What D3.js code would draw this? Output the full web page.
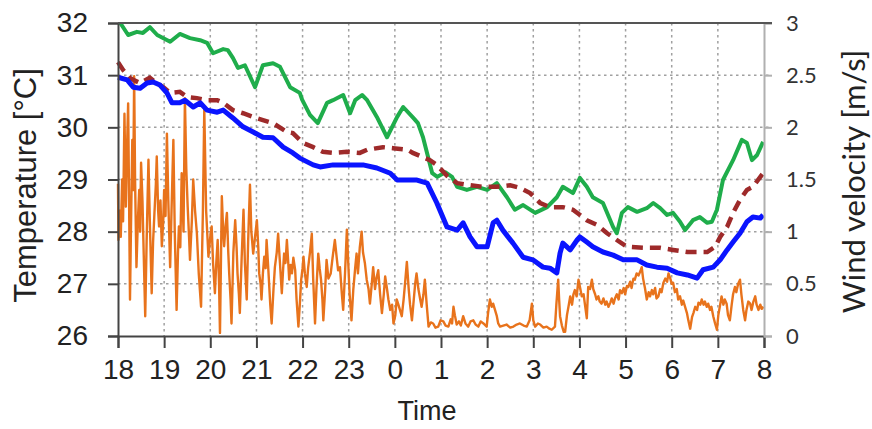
<!DOCTYPE html>
<html>
<head>
<meta charset="utf-8">
<script src="https://cdn.jsdelivr.net/npm/d3@7"></script>
<style>
  body { margin: 0; background: #fff; }
  svg { display: block; }
</style>
</head>
<body>
<div id="chart"></div>
<script>
// hours are counted from 18:00 (0 = 18, 14 = 8 next morning)
let hourTicks = [0, 1, 2, 3, 4, 5, 6, 7, 8, 9, 10, 11, 12, 13, 14];
let hourLabels = ["18", "19", "20", "21", "22", "23", "0", "1", "2", "3", "4", "5", "6", "7", "8"];
let tempTicks = [26, 27, 28, 29, 30, 31, 32];
let windTicks = [0, 0.5, 1, 1.5, 2, 2.5, 3];

// [hour, temperature]
let tempGreen = [[0.05,32.0],[0.22,31.77],[0.41,31.83],[0.54,31.81],[0.69,31.92],[0.85,31.77],[1.13,31.64],[1.34,31.79],[1.56,31.71],[1.78,31.67],[1.93,31.62],[2.06,31.42],[2.28,31.5],[2.38,31.48],[2.49,31.33],[2.6,31.14],[2.75,31.19],[2.97,30.77],[3.14,31.19],[3.36,31.23],[3.51,31.16],[3.73,30.77],[3.94,30.66],[3.99,30.53],[4.16,30.24],[4.33,30.08],[4.53,30.47],[4.66,30.52],[4.88,30.62],[5.03,30.27],[5.14,30.52],[5.29,30.62],[5.4,30.52],[5.61,30.2],[5.83,29.81],[6.05,30.2],[6.18,30.39],[6.4,30.18],[6.5,30.08],[6.61,29.81],[6.72,29.43],[6.81,29.12],[6.92,29.05],[7.09,29.14],[7.24,29.05],[7.35,28.86],[7.56,28.8],[7.78,28.86],[8.0,28.8],[8.21,28.93],[8.43,28.66],[8.6,28.42],[8.78,28.51],[9.04,28.36],[9.3,28.47],[9.51,28.66],[9.64,28.86],[9.86,28.74],[10.01,29.03],[10.16,28.86],[10.29,28.66],[10.51,28.55],[10.73,28.09],[10.81,27.97],[10.92,28.36],[11.05,28.47],[11.25,28.38],[11.46,28.45],[11.6,28.55],[11.75,28.45],[11.9,28.32],[12.03,28.36],[12.18,28.19],[12.29,28.03],[12.46,28.22],[12.61,28.28],[12.77,28.17],[12.87,28.19],[12.98,28.42],[13.11,28.99],[13.33,29.37],[13.52,29.76],[13.63,29.7],[13.74,29.37],[13.85,29.47],[13.98,29.72]];

let tempMaroon = [[0.0,31.25],[0.11,31.1],[0.26,30.95],[0.33,30.91],[0.48,30.85],[0.69,30.95],[0.8,30.87],[0.98,30.77],[1.13,30.66],[1.34,30.68],[1.5,30.58],[1.71,30.56],[1.93,30.52],[2.15,30.52],[2.28,30.47],[2.49,30.33],[2.71,30.27],[2.93,30.2],[3.14,30.14],[3.36,30.08],[3.66,29.91],[3.79,29.89],[4.01,29.7],[4.23,29.62],[4.44,29.53],[4.66,29.51],[4.96,29.53],[5.24,29.51],[5.4,29.57],[5.74,29.62],[5.96,29.6],[6.28,29.57],[6.39,29.51],[6.76,29.37],[6.91,29.28],[7.13,29.07],[7.35,28.93],[7.63,28.89],[7.91,28.86],[8.21,28.86],[8.5,28.89],[8.71,28.84],[8.93,28.74],[9.15,28.55],[9.36,28.47],[9.64,28.47],[9.86,28.42],[10.16,28.22],[10.38,28.13],[10.6,27.97],[10.81,27.84],[11.03,27.71],[11.46,27.69],[11.75,27.69],[12.03,27.65],[12.34,27.61],[12.77,27.61],[12.94,27.71],[13.05,27.9],[13.2,28.09],[13.33,28.36],[13.48,28.61],[13.63,28.8],[13.76,28.86],[13.98,29.12]];

let tempBlue = [[0.0,30.96],[0.2,30.91],[0.33,30.77],[0.48,30.75],[0.63,30.85],[0.76,30.87],[0.91,30.81],[1.06,30.66],[1.17,30.47],[1.34,30.47],[1.45,30.52],[1.63,30.39],[1.78,30.47],[1.93,30.33],[2.15,30.29],[2.28,30.33],[2.49,30.18],[2.71,30.01],[2.93,29.91],[3.14,29.81],[3.36,29.8],[3.58,29.62],[3.79,29.51],[3.94,29.41],[4.23,29.28],[4.38,29.24],[4.66,29.28],[5.03,29.28],[5.31,29.28],[5.61,29.22],[5.9,29.12],[6.05,28.99],[6.48,28.99],[6.7,28.93],[6.91,28.55],[7.13,28.09],[7.35,28.03],[7.48,28.17],[7.63,27.9],[7.78,27.71],[8.0,27.71],[8.13,28.17],[8.21,28.22],[8.34,28.03],[8.56,27.78],[8.78,27.51],[8.99,27.46],[9.21,27.32],[9.36,27.3],[9.51,27.21],[9.58,27.59],[9.64,27.78],[9.8,27.65],[9.95,27.84],[10.01,27.9],[10.16,27.8],[10.29,27.71],[10.51,27.61],[10.73,27.55],[10.95,27.46],[11.25,27.46],[11.46,27.36],[11.68,27.32],[11.9,27.3],[12.12,27.21],[12.34,27.17],[12.55,27.11],[12.68,27.27],[12.9,27.32],[13.05,27.46],[13.2,27.65],[13.33,27.8],[13.48,27.97],[13.63,28.19],[13.76,28.28],[13.92,28.26],[13.98,28.32]];

// [hour, wind velocity m/s]
let windOrange = [[0.00,1.46],[0.01,0.92],[0.04,1.20],[0.06,0.95],[0.09,1.50],[0.11,1.10],[0.14,2.13],[0.17,1.24],[0.19,1.70],[0.22,2.23],[0.24,1.30],[0.26,0.35],[0.28,1.00],[0.31,1.88],[0.33,1.40],[0.35,2.49],[0.37,1.50],[0.40,0.66],[0.43,1.10],[0.46,1.40],[0.48,1.00],[0.50,1.66],[0.53,1.30],[0.55,0.92],[0.59,0.19],[0.62,0.90],[0.66,1.69],[0.69,1.10],[0.73,0.41],[0.76,0.90],[0.79,1.18],[0.82,1.45],[0.84,1.72],[0.87,1.20],[0.89,1.05],[0.92,1.30],[0.95,0.86],[0.98,1.10],[1.00,1.40],[1.03,1.15],[1.06,1.94],[1.09,1.30],[1.13,0.66],[1.16,1.20],[1.20,1.88],[1.23,1.00],[1.27,0.25],[1.30,0.80],[1.32,1.05],[1.35,0.85],[1.38,1.56],[1.42,1.00],[1.45,2.28],[1.48,1.60],[1.51,1.24],[1.54,0.95],[1.56,0.73],[1.60,1.10],[1.63,1.50],[1.67,1.20],[1.71,0.98],[1.75,0.60],[1.80,0.28],[1.84,1.20],[1.87,2.17],[1.91,1.20],[1.96,0.76],[2.00,0.95],[2.03,1.05],[2.06,0.70],[2.10,0.41],[2.13,0.70],[2.16,0.92],[2.19,0.50],[2.21,0.03],[2.25,1.34],[2.28,1.00],[2.30,0.86],[2.33,1.05],[2.36,1.18],[2.39,0.80],[2.41,0.60],[2.44,0.35],[2.46,0.12],[2.50,0.80],[2.54,1.11],[2.57,0.85],[2.59,0.60],[2.62,0.40],[2.64,0.22],[2.68,0.75],[2.72,1.21],[2.75,0.70],[2.79,0.35],[2.82,0.90],[2.86,1.45],[2.89,1.00],[2.93,0.79],[2.97,0.95],[3.01,1.11],[3.04,0.85],[3.06,0.60],[3.09,0.50],[3.11,0.35],[3.14,0.60],[3.17,0.76],[3.20,0.65],[3.22,0.92],[3.25,0.70],[3.27,0.54],[3.30,0.30],[3.33,0.12],[3.37,0.45],[3.40,0.66],[3.44,0.80],[3.47,0.98],[3.51,0.70],[3.55,0.41],[3.58,0.65],[3.60,0.79],[3.63,0.70],[3.66,0.92],[3.69,0.70],[3.71,0.54],[3.74,0.68],[3.77,0.60],[3.80,0.75],[3.84,0.63],[3.87,0.35],[3.91,0.09],[3.94,0.30],[3.97,0.54],[4.00,0.65],[4.02,0.76],[4.05,0.60],[4.09,0.47],[4.12,0.65],[4.16,0.80],[4.20,0.98],[4.23,0.55],[4.27,0.12],[4.30,0.45],[4.34,0.79],[4.37,0.65],[4.40,0.54],[4.43,0.35],[4.45,0.15],[4.49,0.45],[4.52,0.73],[4.56,0.55],[4.61,0.60],[4.65,0.75],[4.70,0.92],[4.74,0.75],[4.77,0.63],[4.81,0.66],[4.85,0.41],[4.88,0.25],[4.92,0.60],[4.96,1.02],[4.99,0.70],[5.02,0.40],[5.06,0.15],[5.10,0.45],[5.14,0.65],[5.17,0.79],[5.20,0.60],[5.24,0.85],[5.28,1.00],[5.31,0.80],[5.35,0.70],[5.39,0.54],[5.43,0.45],[5.46,0.31],[5.50,0.50],[5.53,0.66],[5.57,0.45],[5.60,0.55],[5.64,0.63],[5.68,0.40],[5.72,0.22],[5.76,0.40],[5.79,0.57],[5.83,0.45],[5.86,0.35],[5.90,0.25],[5.94,0.30],[5.97,0.12],[6.01,0.20],[6.04,0.35],[6.07,0.31],[6.11,0.25],[6.15,0.19],[6.19,0.35],[6.22,0.50],[6.26,0.71],[6.30,0.45],[6.33,0.30],[6.37,0.15],[6.41,0.35],[6.44,0.50],[6.47,0.60],[6.51,0.45],[6.55,0.35],[6.58,0.28],[6.62,0.40],[6.65,0.54],[6.69,0.30],[6.73,0.09],[6.78,0.13],[6.83,0.12],[6.88,0.08],[6.94,0.09],[6.99,0.15],[7.05,0.14],[7.10,0.10],[7.16,0.09],[7.21,0.16],[7.24,0.12],[7.27,0.28],[7.30,0.20],[7.34,0.11],[7.39,0.14],[7.43,0.10],[7.48,0.19],[7.53,0.12],[7.59,0.09],[7.64,0.14],[7.70,0.15],[7.75,0.11],[7.81,0.09],[7.86,0.14],[7.92,0.12],[7.99,0.09],[8.02,0.22],[8.06,0.35],[8.10,0.28],[8.13,0.31],[8.17,0.25],[8.21,0.19],[8.24,0.12],[8.28,0.09],[8.35,0.10],[8.42,0.11],[8.50,0.08],[8.57,0.09],[8.64,0.11],[8.71,0.12],[8.79,0.10],[8.86,0.09],[8.92,0.15],[8.97,0.31],[9.00,0.15],[9.04,0.09],[9.10,0.12],[9.15,0.11],[9.22,0.08],[9.29,0.09],[9.35,0.07],[9.40,0.06],[9.47,0.09],[9.50,0.30],[9.54,0.54],[9.56,0.35],[9.58,0.19],[9.62,0.10],[9.66,0.04],[9.69,0.04],[9.73,0.20],[9.77,0.30],[9.80,0.38],[9.84,0.30],[9.87,0.40],[9.90,0.44],[9.94,0.38],[9.98,0.54],[10.02,0.45],[10.05,0.38],[10.09,0.40],[10.12,0.30],[10.16,0.17],[10.19,0.47],[10.23,0.45],[10.27,0.54],[10.30,0.45],[10.34,0.40],[10.37,0.35],[10.41,0.38],[10.44,0.33],[10.48,0.31],[10.52,0.36],[10.56,0.30],[10.59,0.33],[10.63,0.28],[10.67,0.32],[10.70,0.36],[10.74,0.31],[10.77,0.36],[10.81,0.40],[10.85,0.35],[10.88,0.44],[10.92,0.41],[10.96,0.46],[10.99,0.40],[11.03,0.48],[11.06,0.47],[11.10,0.52],[11.13,0.46],[11.17,0.55],[11.20,0.54],[11.24,0.60],[11.28,0.58],[11.32,0.62],[11.35,0.66],[11.38,0.55],[11.42,0.46],[11.46,0.35],[11.50,0.42],[11.53,0.38],[11.57,0.44],[11.60,0.40],[11.64,0.46],[11.67,0.36],[11.71,0.38],[11.75,0.45],[11.78,0.42],[11.82,0.51],[11.86,0.55],[11.90,0.52],[11.93,0.60],[11.97,0.55],[12.00,0.50],[12.03,0.51],[12.07,0.42],[12.11,0.45],[12.14,0.35],[12.18,0.38],[12.22,0.30],[12.25,0.34],[12.29,0.28],[12.33,0.22],[12.36,0.15],[12.40,0.07],[12.44,0.18],[12.47,0.22],[12.51,0.28],[12.55,0.25],[12.58,0.32],[12.62,0.30],[12.65,0.35],[12.69,0.30],[12.72,0.33],[12.76,0.28],[12.79,0.31],[12.83,0.25],[12.86,0.28],[12.90,0.19],[12.94,0.12],[12.98,0.06],[13.01,0.20],[13.05,0.30],[13.08,0.38],[13.12,0.30],[13.15,0.35],[13.19,0.31],[13.22,0.20],[13.26,0.15],[13.30,0.30],[13.33,0.40],[13.37,0.47],[13.40,0.42],[13.44,0.50],[13.48,0.54],[13.51,0.40],[13.55,0.25],[13.59,0.15],[13.62,0.25],[13.66,0.33],[13.70,0.31],[13.73,0.25],[13.77,0.33],[13.81,0.38],[13.84,0.30],[13.88,0.25],[13.92,0.30],[13.95,0.26],[13.99,0.28]];

let margin = { top: 23, left: 118, bottom: 93, right: 108 };
let W = 872, H = 429;
let width = W - margin.left - margin.right;
let height = H - margin.top - margin.bottom;

drawChart();

function drawChart() {
    let svg = d3.select("#chart")
        .append("svg")
        .attr("width", W)
        .attr("height", H);

    let g = svg.append("g")
        .attr("transform", "translate(" + margin.left + "," + margin.top + ")");

    let x = d3.scaleLinear().domain([0, 14]).range([0, width]);
    let yT = d3.scaleLinear().domain([26, 32]).range([height, 0]);
    let yW = d3.scaleLinear().domain([0, 3]).range([height, 0]);

    // dotted grid
    g.append("g").selectAll("line")
        .data(hourTicks.slice(1, -1))
        .enter().append("line")
        .attr("x1", d => x(d)).attr("x2", d => x(d))
        .attr("y1", 0).attr("y2", height)
        .attr("stroke", "#a0a0a0")
        .attr("stroke-width", 1.5)
        .attr("stroke-dasharray", "2.5,3.5");
    g.append("g").selectAll("line")
        .data(tempTicks.slice(1, -1))
        .enter().append("line")
        .attr("x1", 0).attr("x2", width + 8)
        .attr("y1", d => yT(d)).attr("y2", d => yT(d))
        .attr("stroke", "#a0a0a0")
        .attr("stroke-width", 1.5)
        .attr("stroke-dasharray", "2.5,3.5");

    // series
    let lineT = d3.line().x(d => x(d[0])).y(d => yT(d[1]));
    let lineW = d3.line().x(d => x(d[0])).y(d => yW(d[1]));

    g.append("path").datum(windOrange)
        .attr("d", lineW)
        .attr("fill", "none")
        .attr("stroke", "#e8731c")
        .attr("stroke-width", 2.4)
        .attr("stroke-linejoin", "round");

    g.append("path").datum(tempGreen)
        .attr("d", lineT)
        .attr("fill", "none")
        .attr("stroke", "#1fad4b")
        .attr("stroke-width", 4)
        .attr("stroke-linejoin", "round");

    g.append("path").datum(tempMaroon)
        .attr("d", lineT)
        .attr("fill", "none")
        .attr("stroke", "#9e2a2a")
        .attr("stroke-width", 4.5)
        .attr("stroke-dasharray", "11,7");

    g.append("path").datum(tempBlue)
        .attr("d", lineT)
        .attr("fill", "none")
        .attr("stroke", "#0a14ff")
        .attr("stroke-width", 5)
        .attr("stroke-linejoin", "round");

    // axes
    let xAxis = d3.axisBottom(x)
        .tickValues(hourTicks)
        .tickFormat((d, i) => hourLabels[i])
        .tickSize(12)
        .tickPadding(11);
    let gx = g.append("g")
        .attr("transform", "translate(0," + height + ")")
        .call(xAxis);

    let leftAxis = d3.axisLeft(yT)
        .tickValues(tempTicks)
        .tickFormat(d3.format("d"))
        .tickSize(10)
        .tickPadding(20);
    let gl = g.append("g").call(leftAxis);

    let rightAxis = d3.axisRight(yW)
        .tickValues(windTicks)
        .tickFormat(d3.format("~g"))
        .tickSize(8)
        .tickPadding(14);
    let gr = g.append("g")
        .attr("transform", "translate(" + width + ",0)")
        .call(rightAxis);

    [gx, gl].forEach(a => {
        a.selectAll("path, line").attr("stroke", "#444").attr("stroke-width", 2);
        a.selectAll("text")
            .attr("fill", "#222")
            .style("font-family", "'Liberation Sans', Arial, sans-serif")
            .style("font-size", "28px");
    });
    gx.selectAll("text").attr("dy", "0.71em");
    gr.selectAll("path, line").attr("stroke", "#b0b0b0").attr("stroke-width", 2);
    gr.selectAll("text")
        .attr("fill", "#333")
        .style("font-family", "Lato, 'Open Sans', sans-serif")
        .style("font-size", "22px");

    // top frame line
    g.append("line")
        .attr("x1", 0).attr("x2", width + 8)
        .attr("y1", 0).attr("y2", 0)
        .attr("stroke", "#555")
        .attr("stroke-width", 2);

    // axis titles
    svg.append("text")
        .attr("transform", "translate(36," + (margin.top + height / 2 + 6) + ") rotate(-90)")
        .attr("text-anchor", "middle")
        .style("font-family", "'Liberation Sans', Arial, sans-serif")
        .style("font-size", "31px")
        .attr("fill", "#222")
        .text("Temperature [°C]");

    svg.append("text")
        .attr("transform", "translate(865," + (margin.top + height / 2 + 2) + ") rotate(-90)")
        .attr("text-anchor", "middle")
        .style("font-family", "Lato, 'Open Sans', sans-serif")
        .style("font-size", "31px")
        .attr("fill", "#222")
        .text("Wind velocity [m/s]");

    svg.append("text")
        .attr("x", margin.left + width / 2 - 14)
        .attr("y", 420)
        .attr("text-anchor", "middle")
        .style("font-family", "'Liberation Sans', Arial, sans-serif")
        .style("font-size", "27px")
        .attr("fill", "#222")
        .text("Time");
}
</script>
</body>
</html>
